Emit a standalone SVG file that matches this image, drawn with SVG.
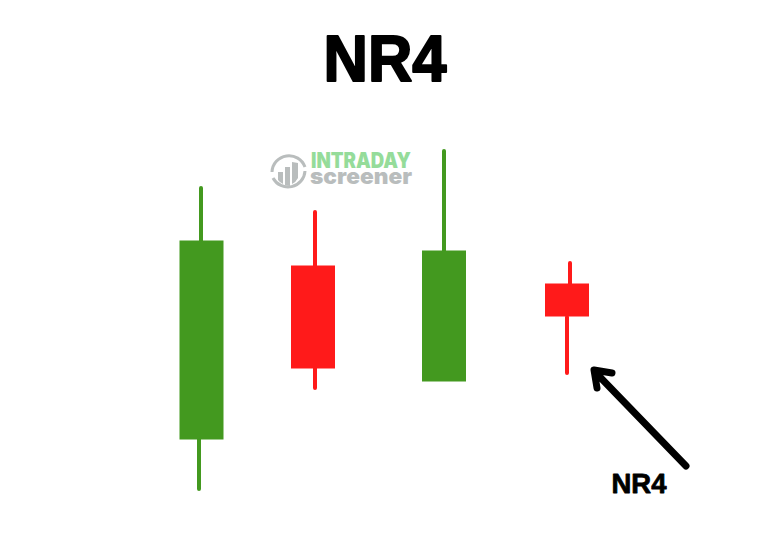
<svg xmlns="http://www.w3.org/2000/svg" width="768" height="545" viewBox="0 0 768 545">
<style>
text{font-family:"Inter","Liberation Sans",sans-serif;font-weight:900}
.head{font-family:"Liberation Sans",Arial,sans-serif;font-weight:700;stroke:#000;fill:#000;stroke-linejoin:round}
.g{fill:#43991f}.r{fill:#ff1a1a}
.gw{stroke:#43991f;stroke-width:4;stroke-linecap:round;fill:none}
.rw{stroke:#ff1a1a;stroke-width:4;stroke-linecap:round;fill:none}
.k{stroke:#000;stroke-width:7;stroke-linecap:round;stroke-linejoin:round;fill:none}
.lg{fill:#b9bdbd}
</style>
<rect width="768" height="545" fill="#fff"/>
<text class="head" x="385" y="81" font-size="64" stroke-width="2" text-anchor="middle" textLength="123" lengthAdjust="spacingAndGlyphs">NR4</text>
<g id="logo">
<path d="M272 172a17 17 0 0 1 33-5" fill="none" stroke="#b9bdbd" stroke-width="3"/>
<path d="M305 171a17 17 0 0 1-32 7" fill="none" stroke="#b9bdbd" stroke-width="3"/>
<path class="lg" d="M278 172h5v12a13 13 0 0 1-5-4zM285 167h5v19a13 13 0 0 1-5-1zM292 162l6 1v15a13 13 0 0 1-6 6z"/>
<text x="311" y="168" font-size="21" fill="#95dc9a" textLength="100" lengthAdjust="spacingAndGlyphs">INTRADAY</text>
<text x="310" y="184" font-size="22" fill="#b9bdbd" textLength="102" lengthAdjust="spacingAndGlyphs">screener</text>
</g>
<g id="candle-1"><path class="gw" d="M201 188V241M199 439V489"/><rect class="g" x="179.500" y="240.500" width="44" height="199"/></g>
<g id="candle-2"><path class="rw" d="M315 212V266M315 368V388"/><rect class="r" x="291" y="265.500" width="44" height="103"/></g>
<g id="candle-3"><path class="gw" d="M444 151V251"/><rect class="g" x="422" y="250.500" width="44" height="131"/></g>
<g id="candle-4"><path class="rw" d="M570 263V284M567 317V373"/><rect class="r" x="545" y="283.500" width="44" height="33"/></g>
<g id="connectors"><path class="k" d="M686 466L598 375M597 388L594 370L612 373"/></g>
<g id="label"><text class="head" x="639" y="493" font-size="28" stroke-width="0.800" text-anchor="middle" textLength="55" lengthAdjust="spacingAndGlyphs">NR4</text></g>
</svg>
